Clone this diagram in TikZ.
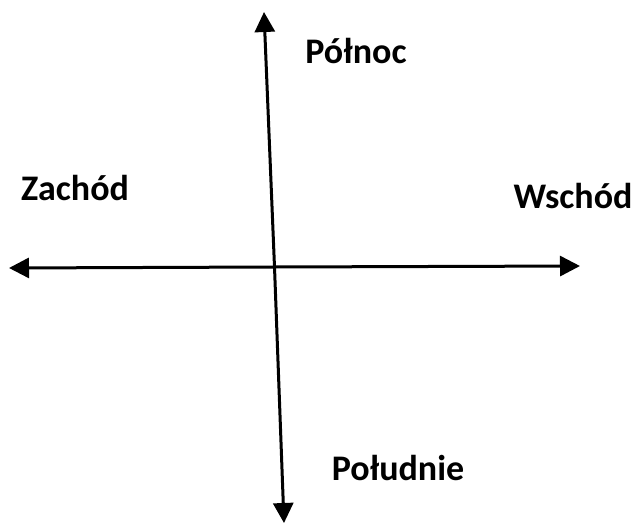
\documentclass[tikz,border=0pt]{standalone}
\usepackage{fontspec}
\setmainfont{Carlito}
\usetikzlibrary{arrows.meta}

\tikzset{
  kierunek/.style={font=\fontsize{18}{20}\selectfont\bfseries},
  os/.style={line width=1.5pt, -{Triangle[length=10pt,width=10pt]}}
}

\begin{document}
\begin{tikzpicture}[x=0.5pt, y=-0.5pt]
  \useasboundingbox (0,0) rectangle (633,525);

  % --- 1. końce osi ---
  \coordinate (S) at (0.5*265+0.5*284, 267);
  \coordinate (N) at (264,12);
  \coordinate (Po) at (284,523);
  \coordinate (W) at (9,268);
  \coordinate (E) at (580,266);

  % --- 2. osie ---
  \draw[os] (S) -- (N);
  \draw[os] (S) -- (Po);
  \draw[os] (S) -- (W);
  \draw[os] (S) -- (E);

  % --- 3. etykiety ---
  \node[kierunek] (polnoc) at (356,51) {Północ};
  \node[kierunek] (zachod) at (75,188) {Zachód};
  \node[kierunek] (wschod) at (573,196) {Wschód};
  \node[kierunek] (poludnie) at (398,468) {Południe};

\end{tikzpicture}
\end{document}
